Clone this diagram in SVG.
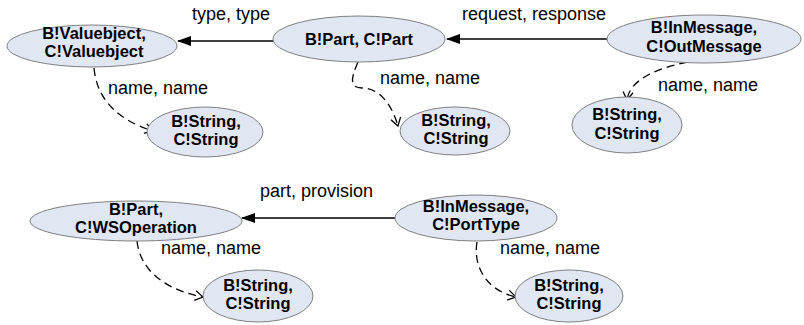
<svg xmlns="http://www.w3.org/2000/svg" width="804" height="325" viewBox="0 0 804 325">
  <defs>
    <marker id="solidHead" markerWidth="14" markerHeight="10" refX="13" refY="5" orient="auto" markerUnits="userSpaceOnUse">
      <path d="M0,0 L14,5 L0,10 Z" fill="#000"/>
    </marker>
    <marker id="openHead" markerWidth="12" markerHeight="12" refX="10" refY="6" orient="auto" markerUnits="userSpaceOnUse">
      <path d="M2,1 L10,6 L2,11" fill="none" stroke="#000" stroke-width="1.3"/>
    </marker>
  </defs>
  <style>
    .node ellipse { fill: #e0e7f3; stroke: #7f7f7f; stroke-width: 1; }
    .node text { font-family: "Liberation Sans", Arial, sans-serif; font-size: 16.5px; font-weight: bold; text-anchor: middle; fill: #000; }
    .solid { fill: none; stroke: #000; stroke-width: 1.6; marker-end: url(#solidHead); }
    .dashed { fill: none; stroke: #000; stroke-width: 1.3; stroke-dasharray: 8 5; marker-end: url(#openHead); }
    .label { font-family: "Liberation Sans", Arial, sans-serif; font-size: 18px; fill: #000; }
  </style>

  <g id="connectors">
    <path class="solid" d="M275,41 L178,41"/>
    <path class="solid" d="M607,39 L447,39"/>
    <path class="solid" d="M396,218 L242,218"/>
    <path class="dashed" d="M94,68 C97,100 118,120 153,131"/>
    <path class="dashed" d="M358,62 C351,78 349,88 362,88 C380,88 392,105 398,126"/>
    <path class="dashed" d="M687,62 C660,68 630,78 627,100"/>
    <path class="dashed" d="M137,241 C140,270 165,290 203,297"/>
    <path class="dashed" d="M477,242 C473,265 485,290 516,297"/>
    <text class="label" x="192" y="20">type, type</text>
    <text class="label" x="462" y="20">request, response</text>
    <text class="label" x="108" y="94">name, name</text>
    <text class="label" x="380" y="84">name, name</text>
    <text class="label" x="658" y="91">name, name</text>
    <text class="label" x="260" y="197">part, provision</text>
    <text class="label" x="161" y="254">name, name</text>
    <text class="label" x="500" y="254">name, name</text>
  </g>

  <g id="valueobject" class="node">
    <ellipse cx="92" cy="46" rx="85" ry="21"/>
    <text x="94" y="39">B!Valuebject,</text>
    <text x="94" y="57">C!Valuebject</text>
  </g>
  <g id="part" class="node">
    <ellipse cx="359" cy="39" rx="86" ry="23"/>
    <text x="359" y="45">B!Part, C!Part</text>
  </g>
  <g id="inmessage-out" class="node">
    <ellipse cx="704" cy="39" rx="97" ry="24"/>
    <text x="704" y="33">B!InMessage,</text>
    <text x="704" y="52">C!OutMessage</text>
  </g>
  <g id="string-1" class="node">
    <ellipse cx="205" cy="132" rx="58" ry="25"/>
    <text x="206" y="127">B!String,</text>
    <text x="206" y="145">C!String</text>
  </g>
  <g id="string-2" class="node">
    <ellipse cx="455" cy="131" rx="55" ry="24"/>
    <text x="456" y="126">B!String,</text>
    <text x="456" y="144">C!String</text>
  </g>
  <g id="string-3" class="node">
    <ellipse cx="627" cy="125" rx="55" ry="28"/>
    <text x="627" y="120">B!String,</text>
    <text x="627" y="139">C!String</text>
  </g>
  <g id="wsoperation" class="node">
    <ellipse cx="136" cy="221" rx="106" ry="20"/>
    <text x="136" y="215">B!Part,</text>
    <text x="136" y="233">C!WSOperation</text>
  </g>
  <g id="inmessage-porttype" class="node">
    <ellipse cx="476" cy="218" rx="81" ry="23"/>
    <text x="476" y="212">B!InMessage,</text>
    <text x="476" y="230">C!PortType</text>
  </g>
  <g id="string-4" class="node">
    <ellipse cx="258" cy="296" rx="55" ry="26"/>
    <text x="258" y="291">B!String,</text>
    <text x="258" y="309">C!String</text>
  </g>
  <g id="string-5" class="node">
    <ellipse cx="569" cy="296" rx="54" ry="26"/>
    <text x="569" y="291">B!String,</text>
    <text x="569" y="309">C!String</text>
  </g>
</svg>
